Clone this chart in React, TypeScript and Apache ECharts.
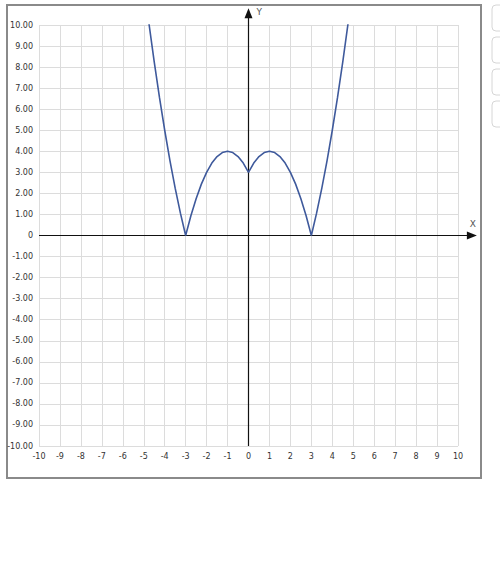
import React, {useRef, useEffect} from 'react';
import * as echarts from 'echarts';

// points
const xValues = [
    -4.8, -4.75, -4.5, -4.25, -4, -3.75, -3.5, -3.25, -3, -2.75, -2.5, -2.25, -2, -1.75, -1.5, -1.25, -1, -0.75, -0.5,
    -0.25, 0, 0.25, 0.5, 0.75, 1, 1.25, 1.5, 1.75, 2, 2.25, 2.5, 2.75, 3, 3.25, 3.5, 3.75, 4, 4.25, 4.5, 4.75, 4.8
];
const yValues = [
    10.44, 10.06, 8.25, 6.56, 5, 3.56, 2.25, 1.06, 0, 0.94, 1.75, 2.44, 3, 3.44, 3.75, 3.94, 4, 3.94, 3.75, 3.44, 3,
    3.44, 3.75, 3.94, 4, 3.94, 3.75, 3.44, 3, 2.44, 1.75, 0.94, 0, 1.06, 2.25, 3.56, 5, 6.56, 8.25, 10.06, 10.44
];
const axisMin = -10;
const axisMax = 10;
const axisStep = 1;
const xArrowEnd = 10.9;
const yArrowEnd = 10.8;

const font = 'Verdana, "DejaVu Sans", sans-serif';

const App = () => {
    const ref = useRef<HTMLDivElement>(null);

    useEffect(() => {
        const chart = echarts.init(ref.current as HTMLDivElement, null, {renderer: 'svg'});
        chart.setOption({
            animation: false,
            grid: {left: 39, right: 42, top: 25, bottom: 128},
            xAxis: {
                type: 'value',
                min: axisMin,
                max: axisMax,
                interval: axisStep,
                axisLine: {show: false},
                axisTick: {show: false},
                axisLabel: {
                    margin: 6,
                    fontSize: 8,
                    fontFamily: font,
                    color: '#333',
                    formatter: (v: number) => String(v)
                },
                splitLine: {lineStyle: {color: '#dcdcdc', width: 1}}
            },
            yAxis: {
                type: 'value',
                min: axisMin,
                max: axisMax,
                interval: axisStep,
                axisLine: {show: false},
                axisTick: {show: false},
                axisLabel: {
                    margin: 6,
                    fontSize: 8,
                    fontFamily: font,
                    color: '#333',
                    formatter: (v: number) => (v === 0 ? '0' : v.toFixed(2))
                },
                splitLine: {lineStyle: {color: '#dcdcdc', width: 1}}
            },
            series: [
                {
                    type: 'line',
                    data: xValues.map((x, i) => [x, yValues[i]]),
                    showSymbol: false,
                    clip: true,
                    z: 3,
                    lineStyle: {color: '#3f5a9c', width: 1.6}
                }
            ]
        });

        const toPx = (p: number[]) => chart.convertToPixel({gridIndex: 0}, p) as number[];
        const xStart = toPx([axisMin, 0]);
        const xEnd = toPx([xArrowEnd, 0]);
        const yStart = toPx([0, axisMin]);
        const yEnd = toPx([0, yArrowEnd]);
        const axisStyle = {stroke: '#111', lineWidth: 1.2};
        chart.setOption({
            graphic: [
                {
                    type: 'rect',
                    shape: {x: 7, y: 5, width: 474, height: 473},
                    style: {fill: 'none', stroke: '#8a8a8a', lineWidth: 2}
                },
                ...[5, 37, 69, 101].map(top => ({
                    type: 'rect',
                    shape: {x: 492, y: top, width: 20, height: 26, r: 4},
                    style: {fill: '#fff', stroke: '#d6d6d6', lineWidth: 1}
                })),
                {
                    type: 'line',
                    z: 1,
                    shape: {x1: xStart[0], y1: xStart[1], x2: xEnd[0] - 6, y2: xEnd[1]},
                    style: axisStyle
                },
                {
                    type: 'polygon',
                    shape: {points: [[xEnd[0], xEnd[1]], [xEnd[0] - 10, xEnd[1] - 4], [xEnd[0] - 10, xEnd[1] + 4]]},
                    style: {fill: '#111'}
                },
                {
                    type: 'line',
                    z: 1,
                    shape: {x1: yStart[0], y1: yStart[1], x2: yEnd[0], y2: yEnd[1] + 6},
                    style: axisStyle
                },
                {
                    type: 'polygon',
                    shape: {points: [[yEnd[0], yEnd[1]], [yEnd[0] - 4, yEnd[1] + 10], [yEnd[0] + 4, yEnd[1] + 10]]},
                    style: {fill: '#111'}
                },
                {
                    type: 'text',
                    x: xEnd[0] - 7,
                    y: xEnd[1] - 16,
                    style: {text: 'X', fontSize: 9, fontFamily: font, fill: '#555'}
                },
                {
                    type: 'text',
                    x: yEnd[0] + 8,
                    y: yEnd[1] - 1,
                    style: {text: 'Y', fontSize: 9, fontFamily: font, fill: '#555'}
                }
            ]
        });

        return () => chart.dispose();
    }, []);

    return <div ref={ref} style={{position: 'absolute', left: 0, top: 0, width: 500, height: 574}}></div>;
};

export default App;
